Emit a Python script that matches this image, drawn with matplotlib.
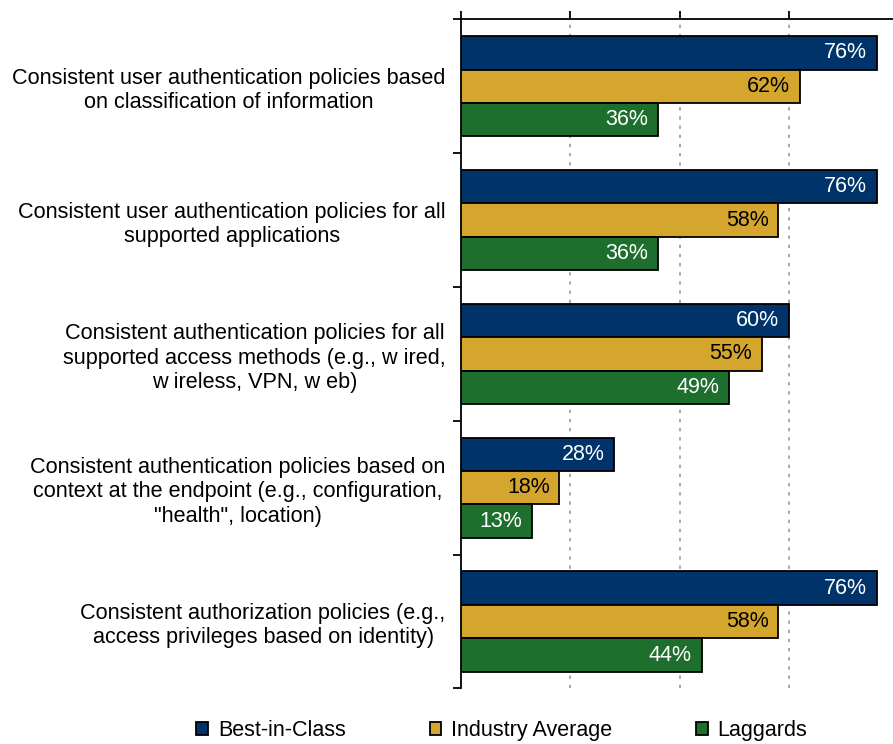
import matplotlib
matplotlib.use('Agg')
import matplotlib.pyplot as plt
from matplotlib.patches import Patch
import numpy as np

plt.rcParams['font.family'] = ['Liberation Sans', 'DejaVu Sans']

categories = [
	'Consistent user authentication policies based\non classification of information',
	'Consistent user authentication policies for all\nsupported applications',
	'Consistent authentication policies for all\nsupported access methods (e.g., w ired,\nw ireless, VPN, w eb)',
	'Consistent authentication policies based on\ncontext at the endpoint (e.g., configuration,\n"health", location)',
	'Consistent authorization policies (e.g.,\naccess privileges based on identity)',
]
series_names = ['Best-in-Class', 'Industry Average', 'Laggards']
best = [76, 76, 60, 28, 76]
industry = [62, 58, 55, 18, 58]
laggards = [36, 36, 49, 13, 44]

colors = ['#00336A', '#D4A62E', '#1E6E2E']
text_colors = ['white', 'black', 'white']

fig = plt.figure(figsize=(8.93, 7.44), dpi=100)
ax = fig.add_axes([0.5162, 0.0746, 1 - 0.5162, 0.974 - 0.0746])

centers = np.arange(len(categories)) + 0.5
bh = 0.25
for i, (vals, col, tcol) in enumerate(zip([best, industry, laggards], colors, text_colors)):
	ypos = centers + (i - 1) * bh
	ax.barh(ypos, vals, height=bh, color=col, edgecolor='black', linewidth=1.3, zorder=3)
	for y, v in zip(ypos, vals):
		ax.annotate('%d%%' % v, (v, y), xytext=(-7, 0), textcoords='offset points',
			ha='right', va='center', color=tcol, fontsize=15.5, zorder=4)

ax.set_xlim(0, 79)
ax.set_ylim(len(categories), 0)

# dashed gridlines
for gx in [20, 40, 60]:
	ax.axvline(gx, color='#999999', lw=1.2, linestyle=(0, (2, 3.5)), zorder=1)

for s in ['right', 'bottom']:
	ax.spines[s].set_visible(False)
ax.spines['top'].set_linewidth(1.3)
ax.spines['left'].set_linewidth(1.3)

ax.xaxis.tick_top()
ax.set_xticks([0, 20, 40, 60])
ax.set_xticklabels([])
ax.tick_params(axis='x', direction='out', length=6, width=1.3)

# ticks on category boundaries, labels at centres
ax.set_yticks(np.arange(len(categories) + 1))
ax.set_yticklabels([])
ax.tick_params(axis='y', which='major', direction='out', length=6, width=1.3)
ax.set_yticks(centers, minor=True)
ax.set_yticklabels(categories, minor=True, fontsize=15.6, linespacing=1.2)
for lbl in ax.get_yticklabels(minor=True):
	lbl.set_ha('right')
	lbl.set_multialignment('center')
ax.tick_params(axis='y', which='minor', length=0, pad=11)

handles = [Patch(facecolor=c, edgecolor='black', linewidth=1.3) for c in colors]
fig.legend(handles, series_names, loc='center', bbox_to_anchor=(0.562, 0.0175), ncol=3,
	frameon=False, fontsize=15.5, handlelength=0.55, handleheight=0.55,
	handletextpad=0.45, columnspacing=3.9, borderpad=0)

fig.savefig('out.png', dpi=100)
